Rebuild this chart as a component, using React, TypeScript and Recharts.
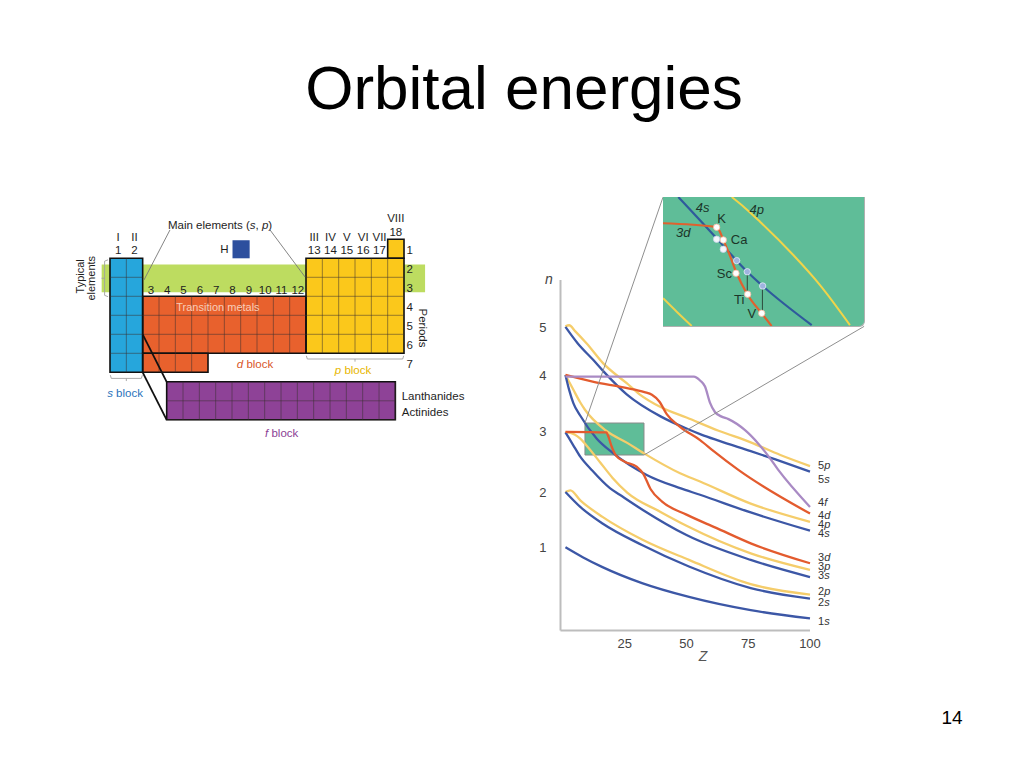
import React from "react";
import {
  ComposedChart,
  Line,
  ReferenceArea,
  ReferenceLine,
  Scatter,
  XAxis,
  YAxis,
} from "recharts";

const FONT = '"Liberation Sans", Arial, Helvetica, sans-serif';

const BLUE = "#3c57a6";
const YELLOW = "#f5cd6b";
const ORANGE = "#e35b2e";
const PURPLE = "#a98ac4";
const GREEN = "#5fbd98";

// orbital energy curves, [Z, n]
const ORB_1S = [[1, 1.01], [8, 0.83], [16, 0.65], [32, 0.36], [51, 0.11], [76, -0.13], [100, -0.28]];
const ORB_2S = [[1, 2.01], [7, 1.74], [16, 1.44], [32, 1.05], [51, 0.66], [76, 0.27], [100, 0.08]];
const ORB_2P = [[1, 2.01], [3, 2.04], [7, 1.86], [16, 1.56], [32, 1.15], [51, 0.78], [76, 0.34], [100, 0.15]];
const ORB_3S = [[1, 3.09], [4, 2.87], [7, 2.65], [11.6, 2.41], [19, 2.08], [23, 1.96], [32.5, 1.68], [50, 1.23], [76, 0.78], [100, 0.47]];
const ORB_3P = [[1, 3.09], [3, 3.08], [6.9, 2.98], [9.6, 2.85], [15, 2.55], [20, 2.27], [26, 2.0], [39.5, 1.65], [50, 1.4], [76, 0.9], [100, 0.6]];
const ORB_3D = [[1, 3.1], [17.5, 3.09], [18.5, 3.0], [19.5, 2.86], [21.5, 2.67], [25, 2.56], [29.8, 2.47], [32.5, 2.34], [35.5, 2.06], [40, 1.84], [50, 1.6], [62, 1.36], [76, 1.08], [100, 0.72]];
const ORB_4S = [[1, 4.13], [2.5, 3.86], [4.2, 3.62], [6.9, 3.4], [13.6, 2.98], [20.4, 2.71], [33.9, 2.32], [47.4, 2.08], [55.5, 1.96], [76, 1.64], [100, 1.31]];
const ORB_4P = [[1, 4.13], [4, 3.88], [6.9, 3.64], [8.9, 3.5], [17.5, 3.12], [26, 2.9], [32.8, 2.71], [47.4, 2.35], [55.5, 2.2], [76, 1.8], [100, 1.47]];
const ORB_4D = [[1, 4.13], [12, 4.01], [25, 3.9], [33, 3.82], [36, 3.77], [39, 3.65], [42, 3.42], [47.4, 3.19], [55.5, 2.95], [61, 2.75], [71, 2.41], [100, 1.62]];
const ORB_4F = [[1, 4.1], [53, 4.1], [55.5, 4.03], [57.5, 3.92], [59.5, 3.63], [61.5, 3.46], [64, 3.38], [67, 3.33], [73.7, 3.13], [79, 2.89], [83, 2.67], [87, 2.42], [100, 1.74]];
const ORB_5S = [[1, 5.0], [6, 4.7], [12.3, 4.4], [16.3, 4.2], [25.8, 3.78], [39.5, 3.38], [50, 3.16], [56, 3.05], [63, 2.94], [76, 2.75], [86, 2.6], [100, 2.38]];
const ORB_5P = [[1, 5.01], [2.5, 5.03], [5, 4.92], [9.6, 4.7], [16.3, 4.34], [25.8, 3.98], [31, 3.78], [39.5, 3.55], [50, 3.36], [63, 3.12], [76, 2.91], [88, 2.68], [100, 2.48]];

const X_TICKS = [25, 50, 75, 100];
const Y_TICK_POS = [1.01, 2.01, 3.1, 4.13, 5.0];
const Y_TICK_LABELS = ["1", "2", "3", "4", "5"];

// zoomed region (Z from/to, n from/to) and where the magnified copy sits
const ZOOM_BOX = { z1: 8.9, z2: 32.8, n1: 2.68, n2: 3.26 };
const ZOOM_TARGET_TL = { z: 40.5, n: 7.35 };
const ZOOM_TARGET_BR = { z: 121.9, n: 5.01 };

const SERIES = [
  { key: "5*p*", points: ORB_5P, color: YELLOW, dy: -1 },
  { key: "5*s*", points: ORB_5S, color: BLUE, dy: 7 },
  { key: "4*p*", points: ORB_4P, color: YELLOW, dy: 2 },
  { key: "4*s*", points: ORB_4S, color: BLUE, dy: 2.5 },
  { key: "3*p*", points: ORB_3P, color: YELLOW, dy: -4 },
  { key: "3*s*", points: ORB_3S, color: BLUE, dy: -2.3 },
  { key: "2*p*", points: ORB_2P, color: YELLOW, dy: -4 },
  { key: "2*s*", points: ORB_2S, color: BLUE, dy: 3 },
  { key: "1*s*", points: ORB_1S, color: BLUE, dy: 3 },
  { key: "3*d*", points: ORB_3D, color: ORANGE, dy: -6 },
  { key: "4*d*", points: ORB_4D, color: ORANGE, dy: 1 },
  { key: "4*f*", points: ORB_4F, color: PURPLE, dy: -5 },
];

// inset (magnified) curves, same Z / n units
const INSET_4S = [[10.72, 3.26], [15.28, 3.074], [17.66, 2.974], [18.92, 2.924], [20.75, 2.86], [26.58, 2.684]];
const INSET_3D = [[8.9, 3.142], [15.08, 3.126], [15.56, 3.111], [16.07, 3.067], [16.87, 2.995], [17.66, 2.917], [18.92, 2.823], [20.64, 2.737], [21.82, 2.68]];
const INSET_4P = [[17.07, 3.26], [18.65, 3.211], [20.43, 3.149], [24.39, 2.999], [27.57, 2.864], [31.13, 2.684]];
const INSET_3P = [[8.9, 2.805], [10.56, 2.743], [12.31, 2.68]];
const INSET_ELEMENT_DOTS = [[15.28, 3.124], [16.07, 3.067], [17.58, 2.917], [18.97, 2.823], [20.64, 2.737]];
const INSET_4S_WHITE_DOTS = [[15.28, 3.07], [16.07, 3.025]];
const INSET_4S_BLUE_DOTS = [[17.66, 2.974], [18.92, 2.924], [20.75, 2.86]];
const INSET_DROPS = [[18.92, 2.924, 2.823], [20.72, 2.86, 2.737]];
const INSET_LABELS = [
  { z: 13.62, n: 3.216, text: "*4s*" },
  { z: 20.04, n: 3.206, text: "*4p*" },
  { z: 11.31, n: 3.101, text: "*3d*" },
  { z: 15.88, n: 3.164, text: "K" },
  { z: 17.95, n: 3.071, text: "Ca" },
  { z: 16.2, n: 2.917, text: "Sc" },
  { z: 17.95, n: 2.801, text: "Ti" },
  { z: 19.45, n: 2.737, text: "V" },
];

// periodic table, in column / row units
const BLOCKS = [
  { name: "s", rects: [[0, 2, 1, 7]], color: "#26a6dc" },
  { name: "d", rects: [[2, 12, 3, 6], [2, 6, 6, 7]], color: "#e8612d" },
  { name: "p", rects: [[12, 18, 1, 6], [17, 18, 0, 1]], color: "#fbc81b" },
  { name: "f", rects: [[3.47, 17.47, 7.5, 9.5]], color: "#8e4297" },
];
const TYPICAL_BAND = [-0.51, 19.29, 1.32, 2.79];
const H_CELL = [7.5, 8.55, 0.05, 1];

const S_ROMAN = ["I", "II"];
const S_NUMS = ["1", "2"];
const D_NUMS = ["3", "4", "5", "6", "7", "8", "9", "10", "11", "12"];
const P_ROMAN = ["III", "IV", "V", "VI", "VII"];
const P_NUMS = ["13", "14", "15", "16", "17"];
const PERIODS = ["1", "2", "3", "4", "5", "6", "7"];

const TABLE_NOTES = [
  { c: 6.74, r: -0.75, text: "Main elements (*s*, *p*)" },
  { c: 7.0, r: 0.53, text: "H" },
  { c: 17.5, r: -1.1, text: "VIII" },
  { c: 17.5, r: -0.4, text: "18" },
];
const TABLE_SIDE_NOTES = [
  { c: 17.86, r: 8.23, text: "Lanthanides" },
  { c: 17.86, r: 9.1, text: "Actinides" },
];
const BLOCK_NAMES = [
  { c: 0.92, r: 8.09, text: "*s* block", fill: "#2a72bb" },
  { c: 8.88, r: 6.56, text: "*d* block", fill: "#d9562a" },
  { c: 14.88, r: 6.88, text: "*p* block", fill: "#e7b600" },
  { c: 10.51, r: 10.19, text: "*f* block", fill: "#8b3d94" },
];
const POINTERS_THIN = [
  [[3.67, -0.49], [2.08, 2.14]],
  [[9.8, -0.49], [11.94, 1.98]],
];
const POINTERS_THICK = [
  [[2.0, 5.0], [3.47, 7.5]],
  [[2.0, 7.0], [3.47, 9.5]],
];
const BRACES = [
  [[-0.33, 1.15], [-0.33, 2.95]],
  [[-0.33, 1.15], [-0.12, 1.08]],
  [[-0.33, 2.95], [-0.12, 3.02]],
  [[-0.33, 2.05], [-0.52, 2.05]],
  [[0.08, 7.32], [1.92, 7.32]],
  [[0.08, 7.32], [0.02, 7.15]],
  [[1.92, 7.32], [1.98, 7.15]],
  [[1.0, 7.32], [1.0, 7.46]],
  [[12.08, 6.3], [17.92, 6.3]],
  [[12.08, 6.3], [12.02, 6.13]],
  [[17.92, 6.3], [17.98, 6.13]],
  [[15.0, 6.3], [15.0, 6.44]],
];

function toXY(points: number[][], xKey: string, yKey: string) {
  return points.map((p) => ({ [xKey]: p[0], [yKey]: p[1] }));
}

function italicParts(s: string) {
  return s.split("*").map((part, i) => (
    <tspan key={i} fontStyle={i % 2 ? "italic" : "normal"}>
      {part}
    </tspan>
  ));
}

type TextStyle = {
  size: number;
  fill?: string;
  anchor?: "start" | "middle" | "end";
  rotate?: number;
  dx?: number;
};

function textShape(st: TextStyle) {
  return (props: any) => {
    const { cx, cy, payload } = props;
    if (cx == null || cy == null) return <g />;
    const x = cx + (st.dx ?? 0);
    const y = cy + (payload.dy ?? 0);
    return (
      <text
        x={x}
        y={y}
        fontSize={st.size}
        fill={payload.fill ?? st.fill ?? "#222"}
        textAnchor={st.anchor ?? "middle"}
        dominantBaseline="central"
        fontFamily={FONT}
        transform={st.rotate ? `rotate(${st.rotate} ${x} ${y})` : undefined}
      >
        {italicParts(payload.text)}
      </text>
    );
  };
}

function dotShape(fill: string, stroke: string) {
  return (props: any) => {
    const { cx, cy } = props;
    if (cx == null || cy == null) return <g />;
    return <circle cx={cx} cy={cy} r={3.2} fill={fill} stroke={stroke} strokeWidth={0.8} />;
  };
}

function innerGrid(rect: number[]) {
  const [c0, c1, r0, r1] = rect;
  const segs: number[][][] = [];
  for (let c = Math.floor(c0) + 1; c < c1 - 0.05; c++) {
    if (c - c0 > 0.05) segs.push([[c + (c0 % 1), r0], [c + (c0 % 1), r1]]);
  }
  for (let r = Math.floor(r0) + 1; r < r1 - 0.05; r++) {
    segs.push([[c0, r + (r0 % 1)], [c1, r + (r0 % 1)]]);
  }
  return segs;
}

function EnergyChart() {
  const endLabels = SERIES.map((s) => {
    const last = s.points[s.points.length - 1];
    return { z: last[0], n: last[1], text: s.key, dy: s.dy };
  });
  return (
    <ComposedChart
      width={380}
      height={500}
      margin={{ top: 100, right: 70, bottom: 19.4, left: 20.5 }}
    >
      <XAxis
        type="number"
        dataKey="z"
        domain={[-1, 100]}
        ticks={X_TICKS}
        height={30}
        tickLine={false}
        axisLine={{ stroke: "#bdbdbd", strokeWidth: 2 }}
        tick={{ fontSize: 13, fill: "#444", fontFamily: FONT }}
        tickMargin={2}
        label={(p: any) => {
          const vb = p.viewBox || { x: 60.5, y: 450.6, width: 249.5 };
          return (
            <text x={vb.x + 142.5} y={vb.y + 30} fontSize={14} fontStyle="italic" fill="#555" textAnchor="middle" fontFamily={FONT}>
              Z
            </text>
          );
        }}
      />
      <YAxis
        type="number"
        dataKey="n"
        domain={[-0.5, 5.85]}
        ticks={Y_TICK_POS}
        tickFormatter={(v: number) => Y_TICK_LABELS[Y_TICK_POS.indexOf(v)] ?? ""}
        width={40}
        tickLine={false}
        axisLine={{ stroke: "#bdbdbd", strokeWidth: 2 }}
        tick={{ fontSize: 13, fill: "#444", fontFamily: FONT }}
        tickMargin={8}
        label={(p: any) => {
          const vb = p.viewBox || { x: 20.5, y: 99.8, width: 40 };
          return (
            <text x={vb.x + vb.width - 11.5} y={vb.y + 4} fontSize={14} fontStyle="italic" fill="#444" textAnchor="middle" fontFamily={FONT}>
              n
            </text>
          );
        }}
      />
      <ReferenceArea
        x1={ZOOM_BOX.z1}
        x2={ZOOM_BOX.z2}
        y1={ZOOM_BOX.n1}
        y2={ZOOM_BOX.n2}
        fill={GREEN}
        fillOpacity={1}
        stroke="#8a8a8a"
        strokeWidth={1}
      />
      {SERIES.map((s) => (
        <Line
          key={s.key}
          data={toXY(s.points, "z", "n")}
          dataKey="n"
          type="monotone"
          stroke={s.color}
          strokeWidth={2.3}
          dot={false}
          activeDot={false}
          isAnimationActive={false}
        />
      ))}
      <ReferenceLine
        segment={[
          { x: ZOOM_BOX.z1, y: ZOOM_BOX.n2 },
          { x: ZOOM_TARGET_TL.z, y: ZOOM_TARGET_TL.n },
        ]}
        stroke="#8f8f8f"
        strokeWidth={1}
        ifOverflow="visible"
      />
      <ReferenceLine
        segment={[
          { x: ZOOM_BOX.z2, y: ZOOM_BOX.n1 },
          { x: ZOOM_TARGET_BR.z, y: ZOOM_TARGET_BR.n },
        ]}
        stroke="#8f8f8f"
        strokeWidth={1}
        ifOverflow="visible"
      />
      <Scatter
        data={endLabels}
        dataKey="n"
        isAnimationActive={false}
        shape={textShape({ size: 11, fill: "#333", anchor: "start", dx: 8 })}
      />
    </ComposedChart>
  );
}

function InsetChart() {
  return (
    <div
      style={{
        position: "absolute",
        left: 663,
        top: 197,
        width: 201,
        height: 129,
        background: GREEN,
        borderRight: "1px solid #b0b0b0",
        borderBottom: "1px solid #b0b0b0",
        borderBottomRightRadius: 6,
        overflow: "hidden",
      }}
    >
      <ComposedChart width={201} height={129} margin={{ top: 0, right: 0, bottom: 0, left: 0 }}>
        <XAxis type="number" dataKey="z" domain={[ZOOM_BOX.z1, ZOOM_BOX.z2]} hide />
        <YAxis type="number" dataKey="n" domain={[ZOOM_BOX.n1, ZOOM_BOX.n2]} hide />
        {INSET_DROPS.map(([z, a, b], i) => (
          <ReferenceLine
            key={i}
            segment={[{ x: z, y: a }, { x: z, y: b }]}
            stroke="#2d4a3c"
            strokeWidth={1}
          />
        ))}
        <Line data={toXY(INSET_3P, "z", "n")} dataKey="n" type="monotone" stroke="#eed24e" strokeWidth={2} dot={false} isAnimationActive={false} />
        <Line data={toXY(INSET_4P, "z", "n")} dataKey="n" type="monotone" stroke="#f1d449" strokeWidth={2} dot={false} isAnimationActive={false} />
        <Line data={toXY(INSET_4S, "z", "n")} dataKey="n" type="monotone" stroke="#2f5a9c" strokeWidth={2.2} dot={false} isAnimationActive={false} />
        <Line data={toXY(INSET_3D, "z", "n")} dataKey="n" type="monotone" stroke="#e0612e" strokeWidth={2.2} dot={false} isAnimationActive={false} />
        <Scatter data={toXY(INSET_4S_WHITE_DOTS, "z", "n")} dataKey="n" isAnimationActive={false} shape={dotShape("#f4f6fb", "#c9d3ea")} />
        <Scatter data={toXY(INSET_4S_BLUE_DOTS, "z", "n")} dataKey="n" isAnimationActive={false} shape={dotShape("#9fb4e0", "#e6ecf8")} />
        <Scatter data={toXY(INSET_ELEMENT_DOTS, "z", "n")} dataKey="n" isAnimationActive={false} shape={dotShape("#ffffff", "#f2b9a0")} />
        <Scatter data={INSET_LABELS} dataKey="n" isAnimationActive={false} shape={textShape({ size: 13, fill: "#1c3528" })} />
      </ComposedChart>
    </div>
  );
}

function PeriodicTable() {
  const gridSegs = BLOCKS.flatMap((b) => b.rects.flatMap(innerGrid));
  const colLabels = [
    ...S_ROMAN.map((t, i) => ({ c: i + 0.5, r: -0.14, text: t })),
    ...S_NUMS.map((t, i) => ({ c: i + 0.5, r: 0.56, text: t })),
    ...D_NUMS.map((t, i) => ({ c: i + 2.5, r: 2.67, text: t })),
    ...P_ROMAN.map((t, i) => ({ c: i + 12.5, r: -0.14, text: t })),
    ...P_NUMS.map((t, i) => ({ c: i + 12.5, r: 0.56, text: t })),
    ...TABLE_NOTES,
  ];
  const periodLabels = PERIODS.map((t, i) => ({ c: 18.15, r: i + 0.56, text: t }));
  return (
    <ComposedChart width={400} height={240} margin={{ top: 0, right: 0, bottom: 0, left: 0 }}>
      <XAxis type="number" dataKey="c" domain={[-2.449, 22.04]} hide />
      <YAxis type="number" dataKey="r" domain={[-1.805, 10.826]} reversed hide />
      <ReferenceArea
        x1={TYPICAL_BAND[0]}
        x2={TYPICAL_BAND[1]}
        y1={TYPICAL_BAND[2]}
        y2={TYPICAL_BAND[3]}
        fill="#bddc60"
        fillOpacity={1}
        stroke="none"
      />
      {BLOCKS.flatMap((b) =>
        b.rects.map((rc, i) => (
          <ReferenceArea
            key={b.name + i}
            x1={rc[0]}
            x2={rc[1]}
            y1={rc[2]}
            y2={rc[3]}
            fill={b.color}
            fillOpacity={1}
            stroke="none"
          />
        ))
      )}
      {gridSegs.map((s, i) => (
        <ReferenceLine
          key={"g" + i}
          segment={[{ x: s[0][0], y: s[0][1] }, { x: s[1][0], y: s[1][1] }]}
          stroke="#3a3030"
          strokeWidth={0.7}
          strokeOpacity={0.75}
        />
      ))}
      {BLOCKS.flatMap((b) =>
        b.rects.map((rc, i) => (
          <ReferenceArea
            key={"o" + b.name + i}
            x1={rc[0]}
            x2={rc[1]}
            y1={rc[2]}
            y2={rc[3]}
            fill="none"
            fillOpacity={0}
            stroke="#111"
            strokeWidth={1.6}
          />
        ))
      )}
      <ReferenceArea
        x1={H_CELL[0]}
        x2={H_CELL[1]}
        y1={H_CELL[2]}
        y2={H_CELL[3]}
        fill="#2d4f9e"
        fillOpacity={1}
        stroke="none"
      />
      {POINTERS_THIN.map((s, i) => (
        <ReferenceLine
          key={"pt" + i}
          segment={[{ x: s[0][0], y: s[0][1] }, { x: s[1][0], y: s[1][1] }]}
          stroke="#777"
          strokeWidth={0.9}
        />
      ))}
      {POINTERS_THICK.map((s, i) => (
        <ReferenceLine
          key={"pk" + i}
          segment={[{ x: s[0][0], y: s[0][1] }, { x: s[1][0], y: s[1][1] }]}
          stroke="#111"
          strokeWidth={1.8}
        />
      ))}
      {BRACES.map((s, i) => (
        <ReferenceLine
          key={"br" + i}
          segment={[{ x: s[0][0], y: s[0][1] }, { x: s[1][0], y: s[1][1] }]}
          stroke="#a0a0a0"
          strokeWidth={0.9}
        />
      ))}
      <Scatter data={colLabels} dataKey="r" isAnimationActive={false} shape={textShape({ size: 11.5, fill: "#1e1e1e" })} />
      <Scatter data={periodLabels} dataKey="r" isAnimationActive={false} shape={textShape({ size: 11.5, fill: "#1e1e1e", anchor: "start" })} />
      <Scatter data={TABLE_SIDE_NOTES} dataKey="r" isAnimationActive={false} shape={textShape({ size: 11.5, fill: "#1e1e1e", anchor: "start" })} />
      <Scatter data={BLOCK_NAMES} dataKey="r" isAnimationActive={false} shape={textShape({ size: 11.5 })} />
      <Scatter
        data={[{ c: 6.61, r: 3.55, text: "Transition metals" }]}
        dataKey="r"
        isAnimationActive={false}
        shape={textShape({ size: 11, fill: "#f7cdb9" })}
      />
      <Scatter
        data={[
          { c: -1.84, r: 1.95, text: "Typical" },
          { c: -1.16, r: 2.05, text: "elements" },
        ]}
        dataKey="r"
        isAnimationActive={false}
        shape={textShape({ size: 11, fill: "#1e1e1e", rotate: -90 })}
      />
      <Scatter
        data={[{ c: 19.17, r: 4.67, text: "Periods" }]}
        dataKey="r"
        isAnimationActive={false}
        shape={textShape({ size: 11.5, fill: "#1e1e1e", rotate: 90 })}
      />
    </ComposedChart>
  );
}

export default function App() {
  return (
    <div
      style={{
        position: "absolute",
        left: 0,
        top: 0,
        width: 1024,
        height: 768,
        background: "#fff",
        overflow: "hidden",
        fontFamily: FONT,
      }}
    >
      <div
        style={{
          position: "absolute",
          left: 0,
          top: 56.5,
          width: 1048,
          textAlign: "center",
          fontSize: 62,
          lineHeight: "62px",
          color: "#000",
        }}
      >
        Orbital energies
      </div>
      <div style={{ position: "absolute", left: 70, top: 205 }}>
        <PeriodicTable />
      </div>
      <div style={{ position: "absolute", left: 500, top: 180 }}>
        <EnergyChart />
      </div>
      <InsetChart />
      <div
        style={{
          position: "absolute",
          left: 941.5,
          top: 708,
          fontSize: 19,
          lineHeight: "19px",
          color: "#000",
        }}
      >
        14
      </div>
    </div>
  );
}
